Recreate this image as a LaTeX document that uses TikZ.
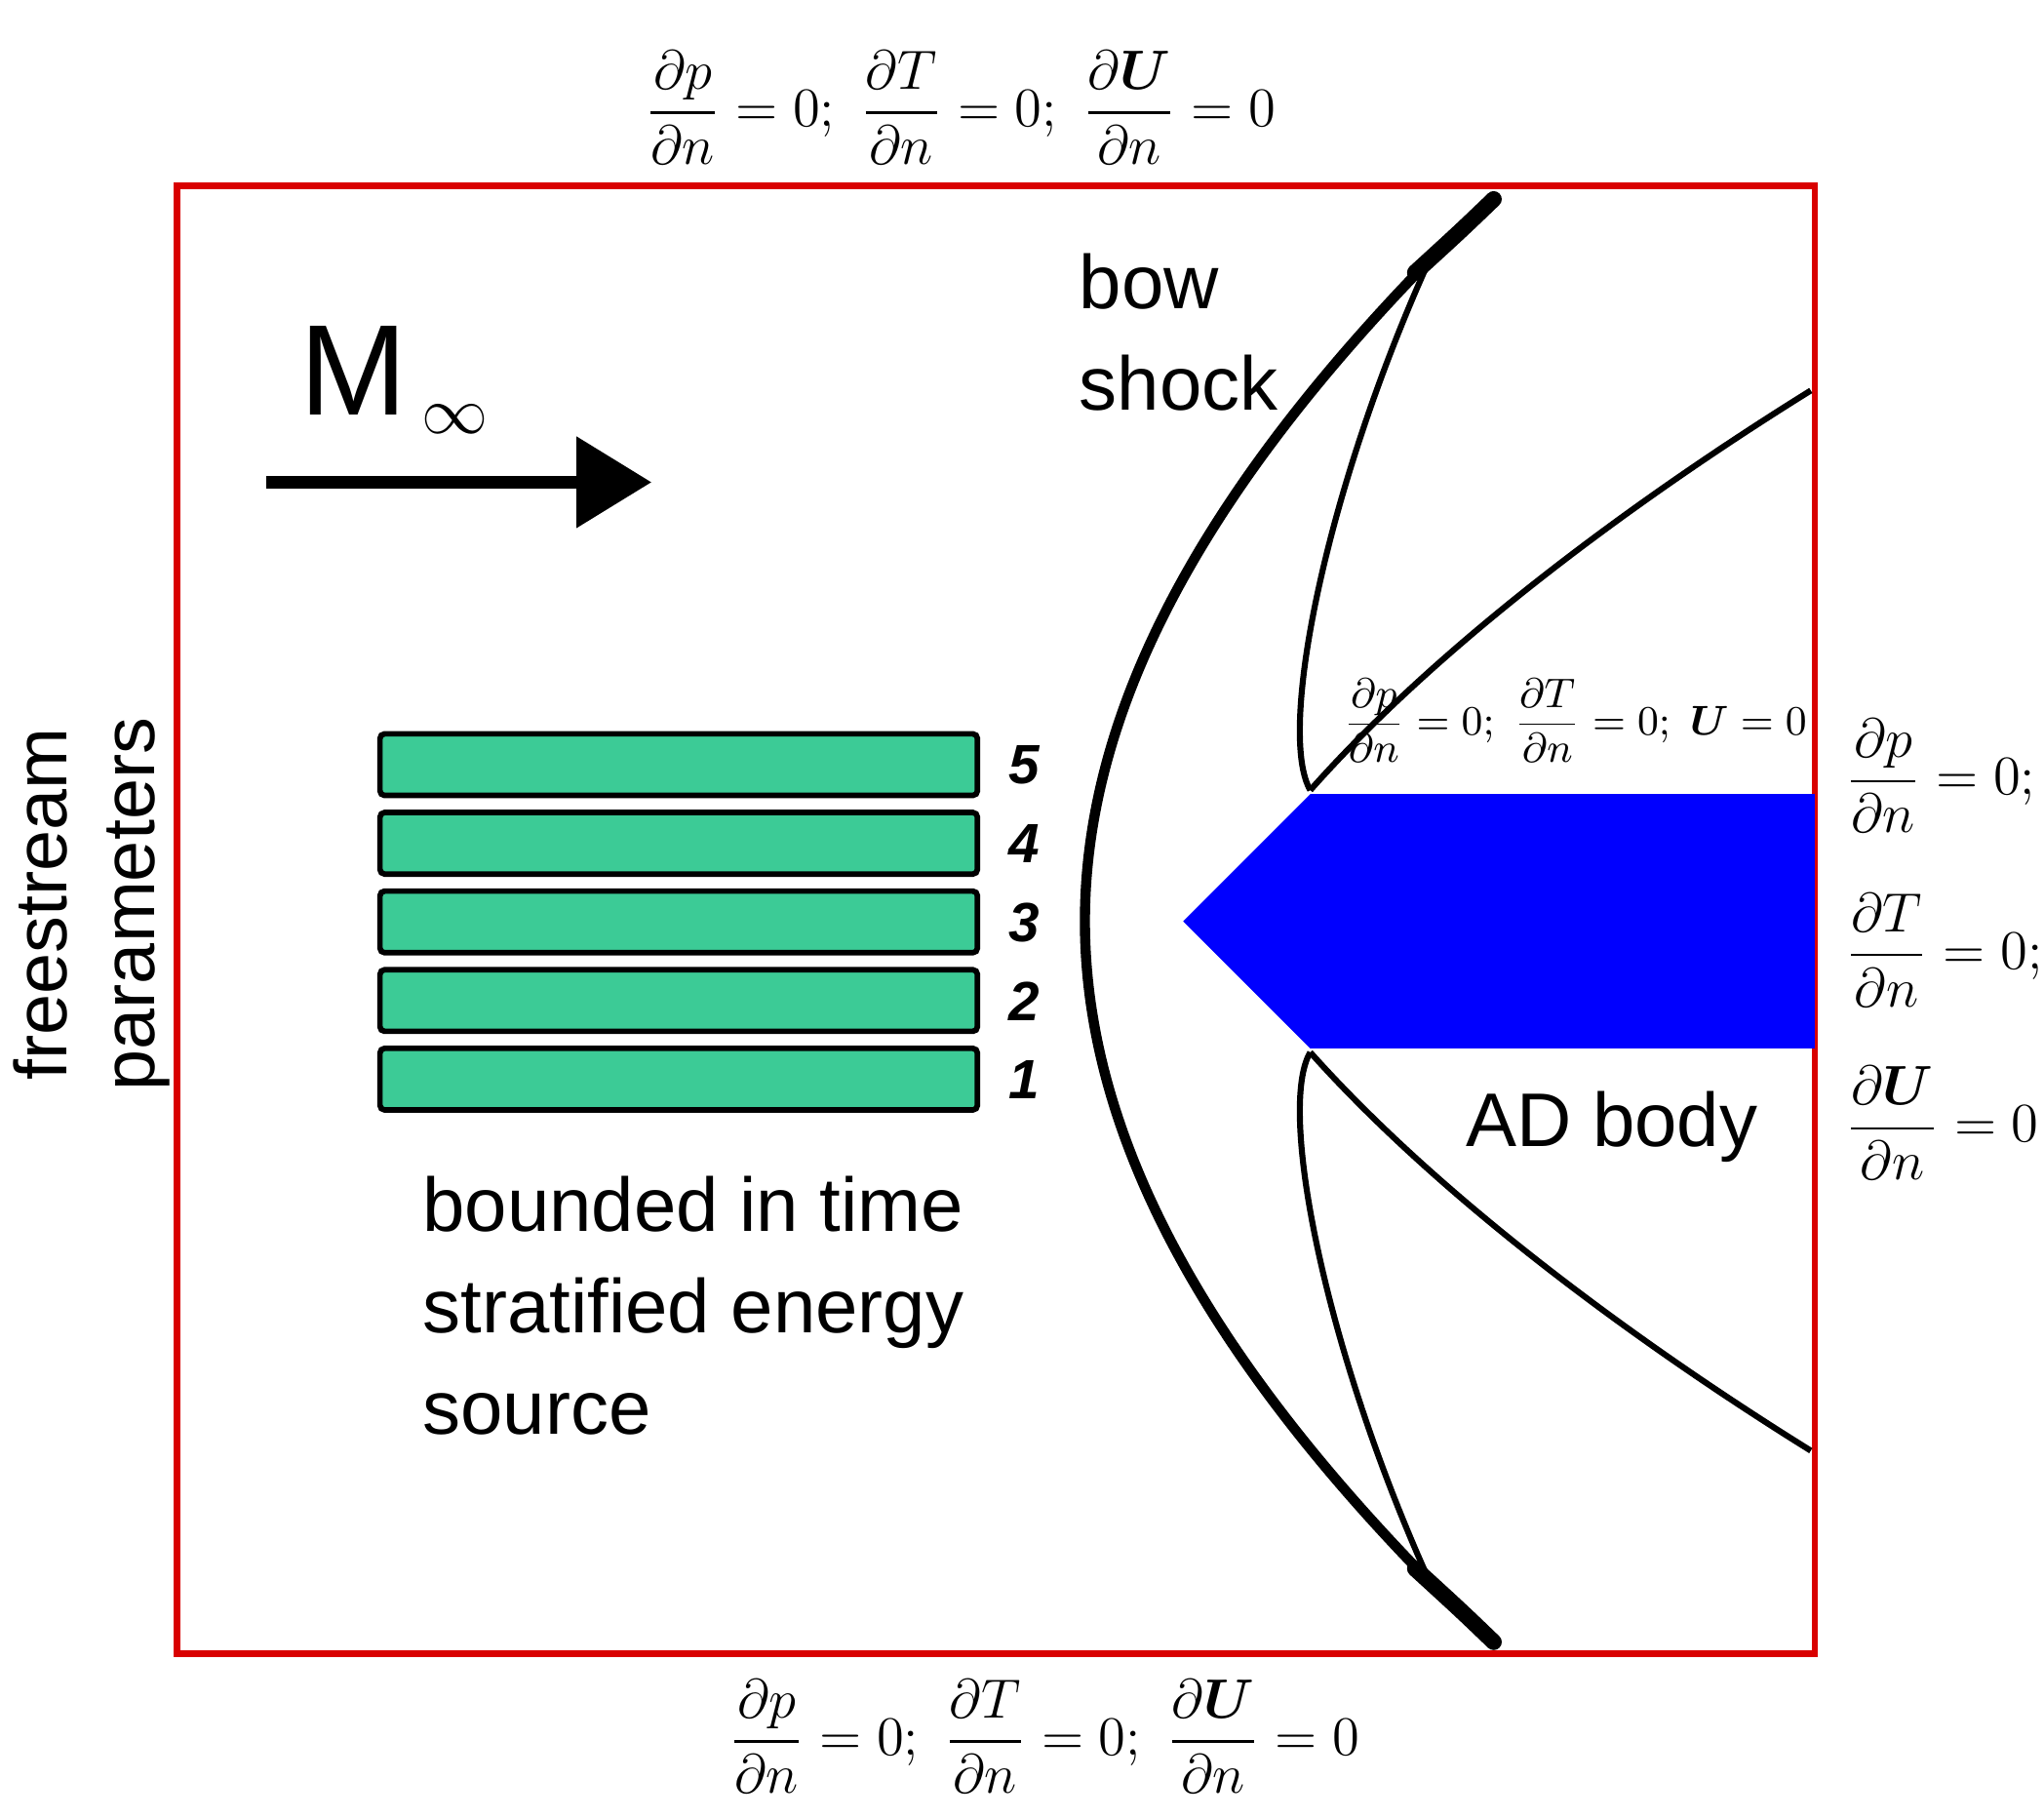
\documentclass[tikz,border=0pt]{standalone}
\usepackage{amsmath,bm}
\usepackage{fontspec}
\setmainfont{Liberation Sans}
\setsansfont{Liberation Sans}
\begin{document}
\begin{tikzpicture}[x=0.01cm,y=-0.01cm,
  lbl/.style={font=\fontsize{16.5}{20}\selectfont,inner sep=0pt},
  num/.style={font=\fontsize{12}{14}\selectfont\bfseries\itshape,inner sep=0pt},
  eq/.style={font=\fontsize{12.5}{15}\selectfont,inner sep=0pt},
  bar/.style={draw=black,line width=1.2pt,fill={rgb,255:red,60;green,203;blue,150},rounded corners=1pt}]
\useasboundingbox (0,0) rectangle (1560,1388);
\draw[red!85!black,line width=1.4pt] (135,142) rectangle (1385,1262);
\node[eq] (top) at (733,82) {$\dfrac{\partial p}{\partial n}=0;\ \dfrac{\partial T}{\partial n}=0;\ \dfrac{\partial \bm{U}}{\partial n}=0$};
\node[eq] (bot) at (797,1325) {$\dfrac{\partial p}{\partial n}=0;\ \dfrac{\partial T}{\partial n}=0;\ \dfrac{\partial \bm{U}}{\partial n}=0$};
\node[eq,anchor=west] (r1) at (1408,592) {$\dfrac{\partial p}{\partial n}=0;$};
\node[eq,anchor=west] (r2) at (1408,725) {$\dfrac{\partial T}{\partial n}=0;$};
\node[eq,anchor=west] (r3) at (1408,857) {$\dfrac{\partial \bm{U}}{\partial n}=0$};
\node[eq,font=\fontsize{9.5}{12}\selectfont] (in) at (1202,550) {$\dfrac{\partial p}{\partial n}=0;\ \dfrac{\partial T}{\partial n}=0;\ \bm{U}=0$};
\node[lbl,rotate=90,align=center,font=\fontsize{16}{19}\selectfont] (fs) at (70,690) {freestream\\parameters};
\node[inner sep=0pt,font=\fontsize{28}{30}\selectfont] (M) at (270,283) {M};
\node[inner sep=0pt,font=\fontsize{14}{16}\selectfont] (inf) at (347,320) {$\infty$};
\coordinate (a1) at (203,368); \coordinate (a2) at (440,368);
\draw[line width=2.6pt] (a1) -- (a2);
\fill (440,333) -- (497,368) -- (440,403) -- cycle;
\foreach \y/\n in {560/5,620/4,680/3,740/2,800/1}{
  \draw[bar] (290,\y) rectangle (746,\y+47);
  \node[num] at (782,\y+24) {\n};
}
\node[lbl,anchor=north west,align=left,font=\fontsize{16.5}{22}\selectfont] (src) at (322,897) {bounded in time\\stratified energy\\source};
\node[lbl,anchor=north west,align=left,font=\fontsize{16.5}{22}\selectfont] (bow) at (823,193) {bow\\shock};
\node[lbl] (ad) at (1230,860) {AD body};
\fill[blue] (903,703) -- (1000,606) -- (1385,606) -- (1385,800) -- (1000,800) -- cycle;
\draw[line width=2.2pt] (1140,150) .. controls (920,360) and (828,540) .. (828,703) .. controls (828,866) and (920,1046) .. (1140,1255);
\draw[line width=3.5pt,line cap=round] (1140,152) .. controls (1115,176) .. (1080,208);
\draw[line width=3.5pt,line cap=round] (1140,1253) .. controls (1115,1229) .. (1080,1197);
\draw[line width=1.3pt] (1088,205) .. controls (1010,380) and (975,560) .. (1000,603);
\draw[line width=1.3pt] (1088,1200) .. controls (1010,1025) and (975,845) .. (1000,803);
\draw[line width=1.3pt] (1000,603) .. controls (1100,490) and (1250,380) .. (1382,298);
\draw[line width=1.3pt] (1000,803) .. controls (1100,915) and (1250,1025) .. (1382,1107);
\end{tikzpicture}
\end{document}
